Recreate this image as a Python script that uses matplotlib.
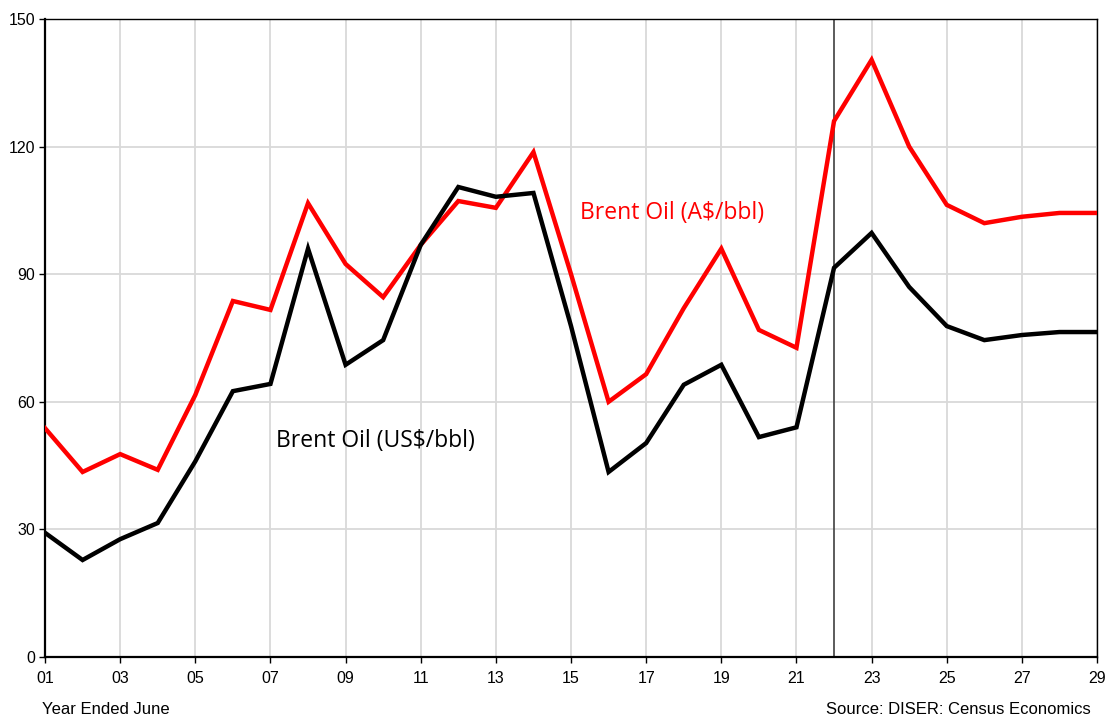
import matplotlib
matplotlib.use("Agg")
import matplotlib.pyplot as plt

# year ended June, 2001 to 2029
years = list(range(1, 30))
usd = [29.2, 22.8, 27.7, 31.5, 46.0, 62.5, 64.2, 96.0, 68.7, 74.5,
       96.9, 110.5, 108.2, 109.1, 77.8, 43.5, 50.3, 64.0, 68.7, 51.7,
       54.0, 91.5, 99.7, 87.0, 77.8, 74.5, 75.7, 76.4, 76.4]
aud = [53.8, 43.5, 47.7, 44.0, 61.6, 83.7, 81.6, 106.7, 92.4, 84.6,
       96.9, 107.2, 105.6, 118.7, 90.0, 60.0, 66.5, 82.0, 96.0, 76.9,
       72.7, 126.0, 140.4, 120.0, 106.3, 102.0, 103.5, 104.4, 104.4]
xtick_years = list(range(1, 30, 2))
ytick_vals = [0, 30, 60, 90, 120, 150]
forecast_start = 22

fig = plt.figure(figsize=(11.06, 7.17), dpi=100)
ax = fig.add_axes([0.0407, 0.0837, 0.9512, 0.8898])

ax.plot(years, aud, color="#ff0000", lw=3.2, solid_joinstyle="miter", zorder=3)
ax.plot(years, usd, color="black", lw=3.2, solid_joinstyle="miter", zorder=3)
ax.axvline(forecast_start, color="#404040", lw=1.2, zorder=2)

ax.set_xlim(1, 29)
ax.set_ylim(0, 150)
ax.set_xticks(xtick_years)
ax.set_xticklabels(["%02d" % y for y in xtick_years])
ax.set_yticks(ytick_vals)
ax.grid(True, color="#d9d9d9", lw=1.3, zorder=0)
ax.set_axisbelow(True)

for s in ax.spines.values():
    s.set_color("black")
    s.set_linewidth(1.0)
ax.spines["left"].set_linewidth(1.6)
ax.spines["bottom"].set_linewidth(1.6)

ax.tick_params(direction="out", length=4, width=1, labelsize=11.5)
ax.tick_params(axis="y", pad=3)
ax.tick_params(axis="x", pad=6)
for lab in ax.get_xticklabels() + ax.get_yticklabels():
    lab.set_family("Liberation Sans")

ax.text(15.25, 104.5, "Brent Oil (A$/bbl)", color="#ff0000",
        fontsize=16.5, family="Open Sans", va="center")
ax.text(7.15, 50.8, "Brent Oil (US$/bbl)", color="black",
        fontsize=16.5, family="Open Sans", va="center")

fig.text(0.038, 0.004, "Year Ended June", fontsize=12, family="Liberation Sans")
fig.text(0.986, 0.004, "Source: DISER: Census Economics", fontsize=12,
         family="Liberation Sans", ha="right")

fig.savefig("out.png", dpi=100)
